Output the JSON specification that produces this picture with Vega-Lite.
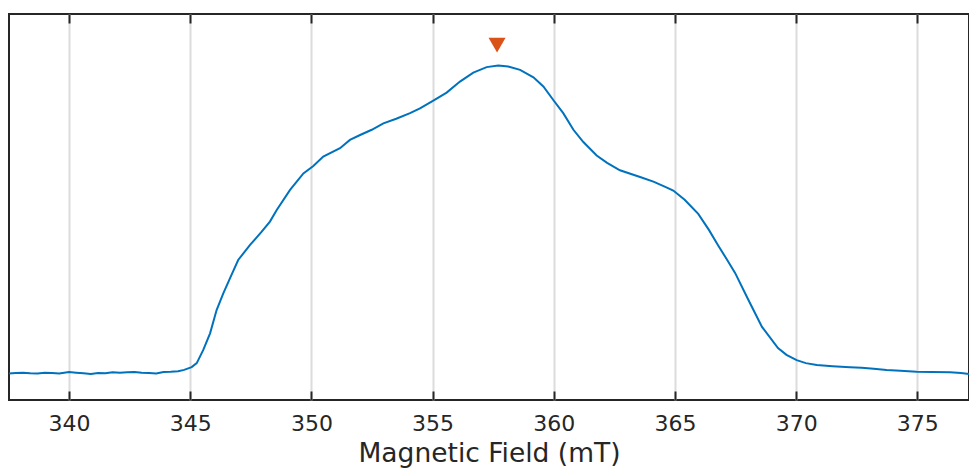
{
  "$schema": "https://vega.github.io/schema/vega-lite/v6.json",
  "width": 960,
  "height": 386,
  "autosize": {"type": "none"},
  "padding": {"left": 9, "top": 14, "right": 0, "bottom": 68},
  "background": "white",
  "config": {
    "view": {"stroke": "#262626", "strokeWidth": 2},
    "font": "DejaVu Sans"
  },
  "datasets": {
    "spectrum": [
      {"field": 337.53, "intensity": -0.002},
      {"field": 337.8, "intensity": 0.0},
      {"field": 338.1, "intensity": 0.001},
      {"field": 338.4, "intensity": -0.001},
      {"field": 338.7, "intensity": -0.002},
      {"field": 339.0, "intensity": 0.001},
      {"field": 339.3, "intensity": 0.0},
      {"field": 339.6, "intensity": -0.002},
      {"field": 340.0, "intensity": 0.003},
      {"field": 340.3, "intensity": 0.001},
      {"field": 340.6, "intensity": -0.001},
      {"field": 340.9, "intensity": -0.003},
      {"field": 341.2, "intensity": 0.0},
      {"field": 341.5, "intensity": -0.001},
      {"field": 341.8, "intensity": 0.002},
      {"field": 342.1, "intensity": 0.001},
      {"field": 342.4, "intensity": 0.002},
      {"field": 342.7, "intensity": 0.003},
      {"field": 343.0, "intensity": 0.001},
      {"field": 343.3, "intensity": 0.0},
      {"field": 343.6, "intensity": -0.002},
      {"field": 343.9, "intensity": 0.003},
      {"field": 344.2, "intensity": 0.004},
      {"field": 344.5, "intensity": 0.006},
      {"field": 344.75, "intensity": 0.01},
      {"field": 345.06, "intensity": 0.019},
      {"field": 345.27, "intensity": 0.032},
      {"field": 345.54, "intensity": 0.075},
      {"field": 345.82, "intensity": 0.129},
      {"field": 346.09, "intensity": 0.205},
      {"field": 346.37, "intensity": 0.26},
      {"field": 346.64, "intensity": 0.308},
      {"field": 346.98, "intensity": 0.368},
      {"field": 347.47, "intensity": 0.417},
      {"field": 347.95, "intensity": 0.46},
      {"field": 348.29, "intensity": 0.493},
      {"field": 348.57, "intensity": 0.531},
      {"field": 349.12, "intensity": 0.596},
      {"field": 349.67, "intensity": 0.65},
      {"field": 350.08, "intensity": 0.674},
      {"field": 350.49, "intensity": 0.705},
      {"field": 351.18, "intensity": 0.732},
      {"field": 351.59, "intensity": 0.759},
      {"field": 352.01, "intensity": 0.775},
      {"field": 352.49, "intensity": 0.792},
      {"field": 352.97, "intensity": 0.813},
      {"field": 353.5, "intensity": 0.828},
      {"field": 354.07, "intensity": 0.846},
      {"field": 354.48, "intensity": 0.862},
      {"field": 355.03, "intensity": 0.887},
      {"field": 355.58, "intensity": 0.913},
      {"field": 356.13, "intensity": 0.949},
      {"field": 356.68, "intensity": 0.978},
      {"field": 357.23, "intensity": 0.996},
      {"field": 357.71, "intensity": 1.001},
      {"field": 358.12, "intensity": 0.998},
      {"field": 358.61, "intensity": 0.987},
      {"field": 359.16, "intensity": 0.963},
      {"field": 359.57, "intensity": 0.933},
      {"field": 359.98, "intensity": 0.889},
      {"field": 360.39, "intensity": 0.846},
      {"field": 360.81, "intensity": 0.792},
      {"field": 361.22, "intensity": 0.752},
      {"field": 361.77, "intensity": 0.708},
      {"field": 362.2, "intensity": 0.684},
      {"field": 362.73, "intensity": 0.66},
      {"field": 363.56, "intensity": 0.638},
      {"field": 364.11, "intensity": 0.623},
      {"field": 364.6, "intensity": 0.606},
      {"field": 364.93, "intensity": 0.594},
      {"field": 365.4, "intensity": 0.564},
      {"field": 365.96, "intensity": 0.518},
      {"field": 366.4, "intensity": 0.466},
      {"field": 366.77, "intensity": 0.417},
      {"field": 367.13, "intensity": 0.371},
      {"field": 367.48, "intensity": 0.326},
      {"field": 368.01, "intensity": 0.241},
      {"field": 368.59, "intensity": 0.15},
      {"field": 369.25, "intensity": 0.081},
      {"field": 369.6, "intensity": 0.059},
      {"field": 370.02, "intensity": 0.042},
      {"field": 370.4, "intensity": 0.032},
      {"field": 370.85, "intensity": 0.026},
      {"field": 371.5, "intensity": 0.022},
      {"field": 372.22, "intensity": 0.0186},
      {"field": 372.7, "intensity": 0.017},
      {"field": 373.2, "intensity": 0.014},
      {"field": 373.73, "intensity": 0.0098},
      {"field": 374.3, "intensity": 0.007},
      {"field": 374.97, "intensity": 0.0042},
      {"field": 375.6, "intensity": 0.003},
      {"field": 376.35, "intensity": 0.0023},
      {"field": 376.8, "intensity": 0.0},
      {"field": 377.13, "intensity": -0.003}
    ],
    "marker": [
      {"field": 357.66, "intensity": 1.068}
    ]
  },
  "layer": [
    {
      "data": {"name": "spectrum"},
      "mark": {"type": "line", "color": "#0072BD", "strokeWidth": 2, "clip": true},
      "encoding": {
        "x": {
          "field": "field",
          "type": "quantitative",
          "scale": {"domain": [337.525, 377.13], "nice": false, "zero": false},
          "axis": {
            "orient": "bottom",
            "title": "Magnetic Field (mT)",
            "values": [340, 345, 350, 355, 360, 365, 370, 375],
            "grid": true,
            "gridColor": "#dcdcdc",
            "gridWidth": 2,
            "domain": false,
            "ticks": true,
            "tickSize": -9,
            "tickWidth": 2,
            "tickColor": "#262626",
            "labelFontSize": 22,
            "labelColor": "#262626",
            "labelFont": "DejaVu Sans",
            "labelPadding": 22,
            "titleFont": "DejaVu Sans",
            "titleFontSize": 26.5,
            "titleFontWeight": "normal",
            "titleColor": "#262626",
            "titlePadding": 6
          }
        },
        "y": {
          "field": "intensity",
          "type": "quantitative",
          "scale": {"domain": [-0.088, 1.169], "nice": false, "zero": false},
          "axis": null
        }
      }
    },
    {
      "data": {"name": "marker"},
      "mark": {"type": "point", "shape": "triangle-down", "filled": true, "color": "#D95319", "size": 290, "opacity": 1},
      "encoding": {
        "x": {
          "field": "field",
          "type": "quantitative",
          "axis": {
            "orient": "top",
            "title": null,
            "values": [340, 345, 350, 355, 360, 365, 370, 375],
            "labels": false,
            "grid": false,
            "domain": false,
            "tickSize": -9,
            "tickWidth": 2,
            "tickColor": "#262626"
          }
        },
        "y": {"field": "intensity", "type": "quantitative"}
      }
    }
  ]
}
